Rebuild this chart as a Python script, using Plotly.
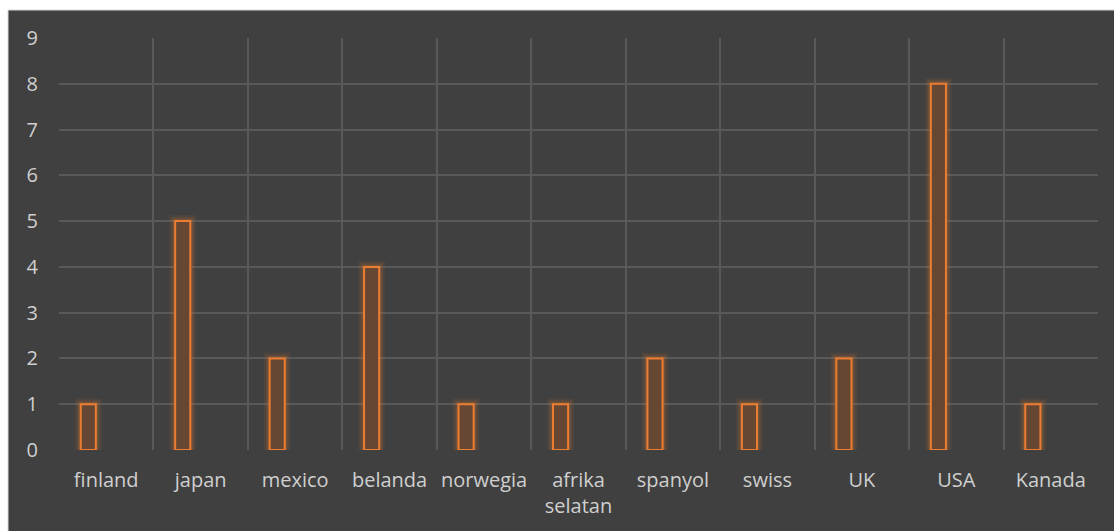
import plotly.graph_objects as go

categories = ["finland", "japan", "mexico", "belanda", "norwegia", "afrika<br>selatan",
              "spanyol", "swiss", "UK", "USA", "Kanada"]
values = [1, 5, 2, 4, 1, 1, 2, 1, 2, 8, 1]
y_ticks = [0, 1, 2, 3, 4, 5, 6, 7, 8, 9]

W, H = 1114, 531
ml, mr, mt, mb = 59, 16, 38, 81
pw = W - ml - mr
ph = H - mt - mb

BW = 0.16
BOFF = -0.27
FONT = dict(family="Open Sans", size=20, color="#cfcfcf")

fig = go.Figure()
# glow layers (soft halo around each bar)
for lw, a in [(12, 0.07), (8, 0.10), (5, 0.14)]:
    fig.add_trace(go.Bar(x=categories, y=values, width=BW, offset=BOFF,
                         marker=dict(color="rgba(0,0,0,0)",
                                     line=dict(color=f"rgba(237,125,49,{a})", width=lw)),
                         hoverinfo="skip", showlegend=False))
fig.add_trace(go.Bar(x=categories, y=values, width=BW, offset=BOFF,
                     marker=dict(color="#654733", line=dict(color="#ED7D31", width=2)),
                     showlegend=False))

fig.add_shape(type="rect", xref="paper", yref="paper",
              x0=(8 - ml) / pw, x1=(W + 5 - ml) / pw,
              y0=-(H + 5 - mt - ph) / ph, y1=1 + (mt - 10) / ph,
              fillcolor="#404040", line=dict(color="#d9d9d9", width=1), layer="below")

fig.update_layout(
    width=W, height=H,
    margin=dict(l=ml, r=mr, t=mt, b=mb),
    paper_bgcolor="white", plot_bgcolor="rgba(0,0,0,0)",
    barmode="overlay",
    font=FONT,
    xaxis=dict(tickson="boundaries", showgrid=True, gridcolor="#595959", gridwidth=1.5,
               ticks="", tickfont=FONT, ticklabelstandoff=16,
               showline=False, zeroline=False),
    yaxis=dict(range=[0, 9], tickvals=y_ticks, showgrid=True, gridcolor="#595959", gridwidth=1.5,
               tickfont=FONT, zeroline=False, showline=False, ticklabelstandoff=20),
)
fig.write_html("out.html")
